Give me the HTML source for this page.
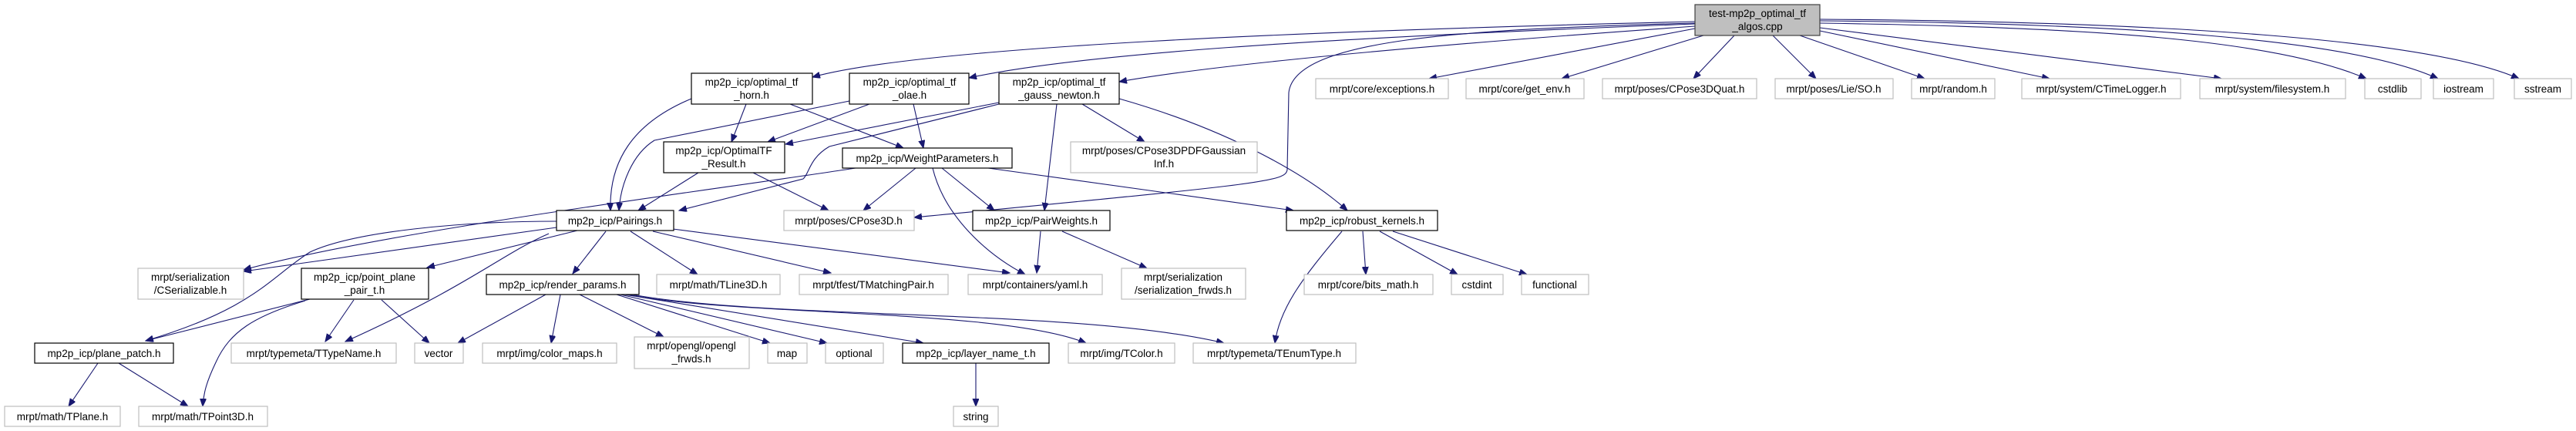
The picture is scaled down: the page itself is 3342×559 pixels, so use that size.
<!DOCTYPE html>
<html><head><meta charset="utf-8"><style>
html,body{margin:0;padding:0;background:#fff;}
svg{display:block;}
text{font-family:"Liberation Sans",sans-serif;font-size:13.5px;fill:#000;text-anchor:middle;}
.b{fill:#fff;stroke:#000;stroke-width:1.2;}
.g{fill:#fff;stroke:#bfbfbf;stroke-width:1.2;}
.e{fill:none;stroke:#191970;stroke-width:1.1;marker-end:url(#a);}
</style></head><body>
<svg width="3342" height="559" viewBox="0 0 3342 559" xmlns="http://www.w3.org/2000/svg">
<defs><marker id="a" markerUnits="userSpaceOnUse" markerWidth="11" markerHeight="9" refX="10" refY="4" orient="auto"><path d="M0,0 L10,4 L0,8 z" fill="#191970" stroke="#191970"/></marker></defs>

<!-- edges from test cpp -->
<path class="e" d="M2199,28 C1700,40 1200,60 1054,100"/>
<path class="e" d="M2199,31 C1700,50 1400,70 1257,101"/>
<path class="e" d="M2199,34 C1900,55 1600,80 1452,106"/>
<path class="e" d="M2199,30 C1900,38 1680,50 1672,120 L1670,220 C1668,236 1640,238 1186,282"/>
<path class="e" d="M2199,37 L1854,102"/>
<path class="e" d="M2210,46 L2026,102"/>
<path class="e" d="M2250,46 L2197,102"/>
<path class="e" d="M2300,46 L2356,102"/>
<path class="e" d="M2335,46 L2497,102"/>
<path class="e" d="M2361,40 L2659,102"/>
<path class="e" d="M2361,36 L2882,102"/>
<path class="e" d="M2361,30 C2700,35 2950,50 3070,102"/>
<path class="e" d="M2361,27 C2750,30 3050,50 3163,102"/>
<path class="e" d="M2361,25 C2800,28 3150,50 3268,102"/>

<!-- horn -->
<path class="e" d="M897,128 C820,160 790,210 792,273"/>
<path class="e" d="M968,135 L949,184"/>
<path class="e" d="M1025,135 L1172,192"/>
<!-- olae -->
<path class="e" d="M1102,131 L849,182 C820,200 805,240 803,273"/>
<path class="e" d="M1128,135 L996,184"/>
<path class="e" d="M1185,135 L1198,192"/>
<!-- gauss -->
<path class="e" d="M1296,133 L1019,187"/>
<path class="e" d="M1296,135 L1076,190 C1050,205 1050,225 1042,232 L881,273"/>
<path class="e" d="M1371,135 L1355,273"/>
<path class="e" d="M1404,135 L1485,184"/>
<path class="e" d="M1452,128 C1600,170 1700,230 1748,273"/>
<!-- OptimalTF_Result -->
<path class="e" d="M906,224 L828,273"/>
<path class="e" d="M977,224 L1075,273"/>
<!-- WeightParameters -->
<path class="e" d="M1110,218 C900,250 500,300 316,350"/>
<path class="e" d="M1188,218 L1120,273"/>
<path class="e" d="M1222,218 L1290,273"/>
<path class="e" d="M1210,218 C1225,280 1280,330 1330,356"/>
<path class="e" d="M1282,218 L1678,273"/>
<!-- Pairings -->
<path class="e" d="M722,295 L316,352"/>
<path class="e" d="M722,287 C600,287 460,300 402,327 C350,360 330,400 189,442"/>
<path class="e" d="M749,299 L554,347"/>
<path class="e" d="M712,303 C650,330 610,370 448,443"/>
<path class="e" d="M786,300 L743,355"/>
<path class="e" d="M818,300 L905,356"/>
<path class="e" d="M847,300 L1078,354"/>
<path class="e" d="M873,297 L1310,354"/>
<!-- PairWeights -->
<path class="e" d="M1350,300 L1345,354"/>
<path class="e" d="M1378,300 L1488,348"/>
<!-- robust -->
<path class="e" d="M1741,300 C1690,360 1660,400 1654,445"/>
<path class="e" d="M1768,300 L1772,356"/>
<path class="e" d="M1790,300 L1891,356"/>
<path class="e" d="M1807,300 L1981,356"/>
<!-- point_plane_pair -->
<path class="e" d="M402,388 L189,442"/>
<path class="e" d="M396,390 C330,410 298,430 280,470 C268,495 264,510 263,527"/>
<path class="e" d="M459,389 L422,443"/>
<path class="e" d="M495,389 L557,445"/>
<!-- render_params -->
<path class="e" d="M708,382 L594,445"/>
<path class="e" d="M727,382 L715,445"/>
<path class="e" d="M752,382 L861,437"/>
<path class="e" d="M800,382 L999,445"/>
<path class="e" d="M805,382 L1073,445"/>
<path class="e" d="M810,382 L1198,445"/>
<path class="e" d="M815,382 C950,410 1300,400 1409,445"/>
<path class="e" d="M820,382 C1000,415 1400,400 1588,445"/>
<!-- layer_name -->
<path class="e" d="M1266,471 L1266,527"/>
<!-- plane_patch -->
<path class="e" d="M127,471 L89,527"/>
<path class="e" d="M154,471 L244,527"/>

<!-- nodes -->
<rect x="2199" y="6" width="162" height="40" fill="#bfbfbf" stroke="#404040" stroke-width="1.2"/>
<text x="2280" y="22">test-mp2p_optimal_tf</text><text x="2280" y="39">_algos.cpp</text>

<rect class="b" x="897" y="95" width="157" height="40"/><text x="975" y="111">mp2p_icp/optimal_tf</text><text x="975" y="128">_horn.h</text>
<rect class="b" x="1102" y="95" width="155" height="40"/><text x="1180" y="111">mp2p_icp/optimal_tf</text><text x="1180" y="128">_olae.h</text>
<rect class="b" x="1296" y="95" width="156" height="40"/><text x="1374" y="111">mp2p_icp/optimal_tf</text><text x="1374" y="128">_gauss_newton.h</text>
<rect class="g" x="1707" y="102" width="172" height="26"/><text x="1793" y="120">mrpt/core/exceptions.h</text>
<rect class="g" x="1902" y="102" width="153" height="26"/><text x="1978" y="120">mrpt/core/get_env.h</text>
<rect class="g" x="2079" y="102" width="200" height="26"/><text x="2179" y="120">mrpt/poses/CPose3DQuat.h</text>
<rect class="g" x="2303" y="102" width="153" height="26"/><text x="2379" y="120">mrpt/poses/Lie/SO.h</text>
<rect class="g" x="2480" y="102" width="108" height="26"/><text x="2534" y="120">mrpt/random.h</text>
<rect class="g" x="2623" y="102" width="206" height="26"/><text x="2726" y="120">mrpt/system/CTimeLogger.h</text>
<rect class="g" x="2854" y="102" width="189" height="26"/><text x="2948" y="120">mrpt/system/filesystem.h</text>
<rect class="g" x="3068" y="102" width="73" height="26"/><text x="3104" y="120">cstdlib</text>
<rect class="g" x="3157" y="102" width="78" height="26"/><text x="3196" y="120">iostream</text>
<rect class="g" x="3262" y="102" width="74" height="26"/><text x="3299" y="120">sstream</text>

<rect class="b" x="861" y="184" width="157" height="40"/><text x="939" y="200">mp2p_icp/OptimalTF</text><text x="939" y="217">_Result.h</text>
<rect class="b" x="1093" y="192" width="220" height="26"/><text x="1203" y="210">mp2p_icp/WeightParameters.h</text>
<rect class="g" x="1389" y="184" width="242" height="40"/><text x="1510" y="200">mrpt/poses/CPose3DPDFGaussian</text><text x="1510" y="217">Inf.h</text>

<rect class="b" x="722" y="273" width="152" height="26"/><text x="798" y="291">mp2p_icp/Pairings.h</text>
<rect class="g" x="1017" y="273" width="169" height="26"/><text x="1101" y="291">mrpt/poses/CPose3D.h</text>
<rect class="b" x="1262" y="273" width="178" height="26"/><text x="1351" y="291">mp2p_icp/PairWeights.h</text>
<rect class="b" x="1669" y="273" width="196" height="26"/><text x="1767" y="291">mp2p_icp/robust_kernels.h</text>

<rect class="g" x="179" y="348" width="137" height="40"/><text x="247" y="364">mrpt/serialization</text><text x="247" y="381">/CSerializable.h</text>
<rect class="b" x="391" y="348" width="165" height="40"/><text x="473" y="364">mp2p_icp/point_plane</text><text x="473" y="381">_pair_t.h</text>
<rect class="b" x="631" y="356" width="198" height="26"/><text x="730" y="374">mp2p_icp/render_params.h</text>
<rect class="g" x="852" y="356" width="160" height="26"/><text x="932" y="374">mrpt/math/TLine3D.h</text>
<rect class="g" x="1037" y="356" width="193" height="26"/><text x="1133" y="374">mrpt/tfest/TMatchingPair.h</text>
<rect class="g" x="1256" y="356" width="174" height="26"/><text x="1343" y="374">mrpt/containers/yaml.h</text>
<rect class="g" x="1455" y="348" width="161" height="40"/><text x="1535" y="364">mrpt/serialization</text><text x="1535" y="381">/serialization_frwds.h</text>
<rect class="g" x="1692" y="356" width="167" height="26"/><text x="1775" y="374">mrpt/core/bits_math.h</text>
<rect class="g" x="1883" y="356" width="67" height="26"/><text x="1916" y="374">cstdint</text>
<rect class="g" x="1974" y="356" width="87" height="26"/><text x="2017" y="374">functional</text>

<rect class="b" x="45" y="445" width="180" height="26"/><text x="135" y="463">mp2p_icp/plane_patch.h</text>
<rect class="g" x="300" y="445" width="214" height="26"/><text x="407" y="463">mrpt/typemeta/TTypeName.h</text>
<rect class="g" x="538" y="445" width="63" height="26"/><text x="569" y="463">vector</text>
<rect class="g" x="626" y="445" width="174" height="26"/><text x="713" y="463">mrpt/img/color_maps.h</text>
<rect class="g" x="823" y="437" width="149" height="41"/><text x="897" y="453">mrpt/opengl/opengl</text><text x="897" y="470">_frwds.h</text>
<rect class="g" x="996" y="445" width="51" height="26"/><text x="1021" y="463">map</text>
<rect class="g" x="1071" y="445" width="75" height="26"/><text x="1108" y="463">optional</text>
<rect class="b" x="1171" y="445" width="190" height="26"/><text x="1266" y="463">mp2p_icp/layer_name_t.h</text>
<rect class="g" x="1386" y="445" width="138" height="26"/><text x="1455" y="463">mrpt/img/TColor.h</text>
<rect class="g" x="1548" y="445" width="211" height="26"/><text x="1653" y="463">mrpt/typemeta/TEnumType.h</text>

<rect class="g" x="6" y="527" width="150" height="26"/><text x="81" y="545">mrpt/math/TPlane.h</text>
<rect class="g" x="180" y="527" width="167" height="26"/><text x="263" y="545">mrpt/math/TPoint3D.h</text>
<rect class="g" x="1237" y="527" width="58" height="26"/><text x="1266" y="545">string</text>
</svg>
</body></html>
